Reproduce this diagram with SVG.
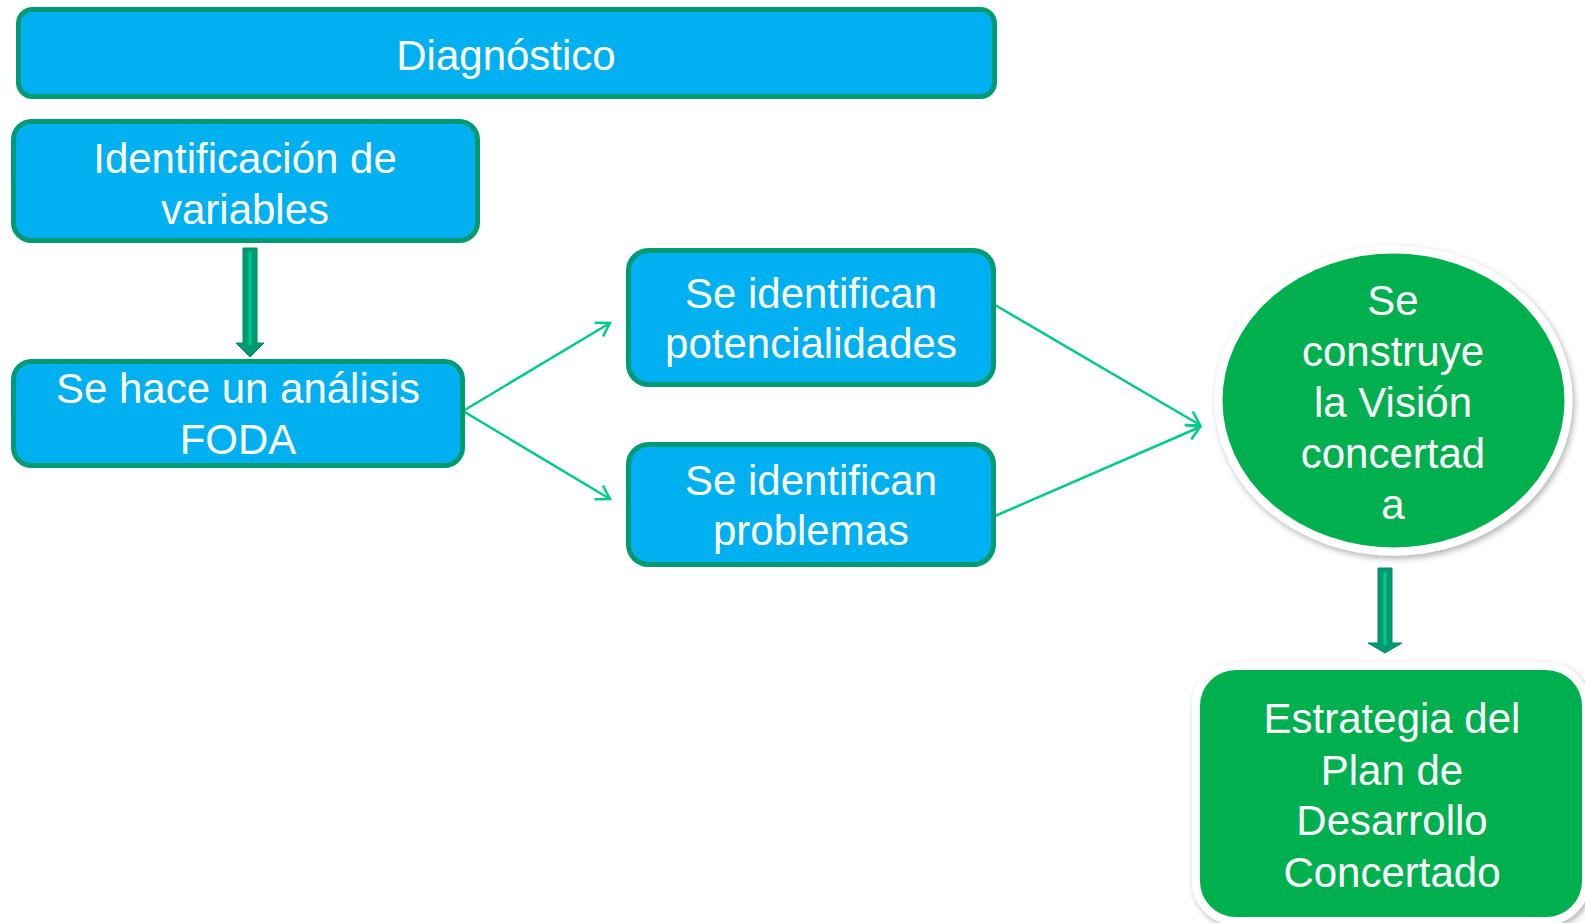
<svg xmlns="http://www.w3.org/2000/svg" width="1585" height="923" viewBox="0 0 1585 923">
<style>
.box{fill:#00B0F0;stroke:#009B72;stroke-width:5}
.t{font-family:"Liberation Sans",Arial,sans-serif;font-size:42px;fill:#FFFFFF;text-anchor:middle}
.conn{stroke:#00CC88;stroke-width:2.5;fill:none}
.blk{fill:#009B72;stroke:#008A62;stroke-width:1}
.stripe{stroke:#00C88A;stroke-width:3}
</style>
<defs>
<marker id="ah" markerUnits="userSpaceOnUse" markerWidth="20" markerHeight="20" refX="15" refY="9" orient="auto" viewBox="0 0 20 18">
<path d="M2,1 L15,9 L2,17" fill="none" stroke="#00CC88" stroke-width="2.5"/>
</marker>
<filter id="sh" x="-10%" y="-10%" width="125%" height="125%">
<feDropShadow dx="2" dy="3" stdDeviation="3" flood-color="#000" flood-opacity="0.3"/>
</filter>
</defs>
<rect width="1585" height="923" fill="#FFFFFF"/>
<g id="connectors">
<line class="conn" x1="463" y1="411" x2="610" y2="323" marker-end="url(#ah)"/>
<line class="conn" x1="463" y1="411" x2="610" y2="499" marker-end="url(#ah)"/>
<line class="conn" x1="995" y1="305" x2="1200" y2="425" marker-end="url(#ah)"/>
<line class="conn" x1="995" y1="516" x2="1200" y2="427" marker-end="url(#ah)"/>
<g id="arrow1">
<polygon class="blk" points="243,248 257,248 257,343 264,343 250,357 236,343 243,343"/>
<line class="stripe" x1="250" y1="252" x2="250" y2="345"/>
</g>
<g id="arrow2">
<polygon class="blk" points="1378,568 1392,568 1392,643 1402,643 1385,653 1368,643 1378,643"/>
<line class="stripe" x1="1385" y1="572" x2="1385" y2="645"/>
</g>
</g>
<g id="diagnostico">
<rect class="box" x="18.5" y="9.5" width="976" height="87" rx="14"/>
<text class="t" x="506" y="70">Diagnóstico</text>
</g>
<g id="identificacion">
<rect class="box" x="13.5" y="121.5" width="464" height="119" rx="18"/>
<text class="t" x="245" y="173">Identificación de</text>
<text class="t" x="245" y="224">variables</text>
</g>
<g id="foda">
<rect class="box" x="13.5" y="361.5" width="449" height="104" rx="18"/>
<text class="t" x="238" y="403">Se hace un análisis</text>
<text class="t" x="238" y="454">FODA</text>
</g>
<g id="potencialidades">
<rect class="box" x="628.5" y="250.5" width="365" height="134" rx="20"/>
<text class="t" x="811" y="308">Se identifican</text>
<text class="t" x="811" y="358">potencialidades</text>
</g>
<g id="problemas">
<rect class="box" x="628.5" y="444.5" width="365" height="120" rx="20"/>
<text class="t" x="811" y="495">Se identifican</text>
<text class="t" x="811" y="545">problemas</text>
</g>
<g id="vision">
<ellipse cx="1393.5" cy="400.5" rx="175" ry="151" fill="#00B050" stroke="#FFFFFF" stroke-width="8" filter="url(#sh)"/>
<text class="t" x="1393" y="315">Se</text>
<text class="t" x="1393" y="366">construye</text>
<text class="t" x="1393" y="417">la Visión</text>
<text class="t" x="1393" y="468">concertad</text>
<text class="t" x="1393" y="519">a</text>
</g>
<g id="estrategia">
<rect x="1196" y="666" width="390" height="255" rx="40" fill="#00B050" stroke="#FFFFFF" stroke-width="8" filter="url(#sh)"/>
<text class="t" x="1392" y="733">Estrategia del</text>
<text class="t" x="1392" y="785">Plan de</text>
<text class="t" x="1392" y="835">Desarrollo</text>
<text class="t" x="1392" y="887">Concertado</text>
</g>
</svg>
